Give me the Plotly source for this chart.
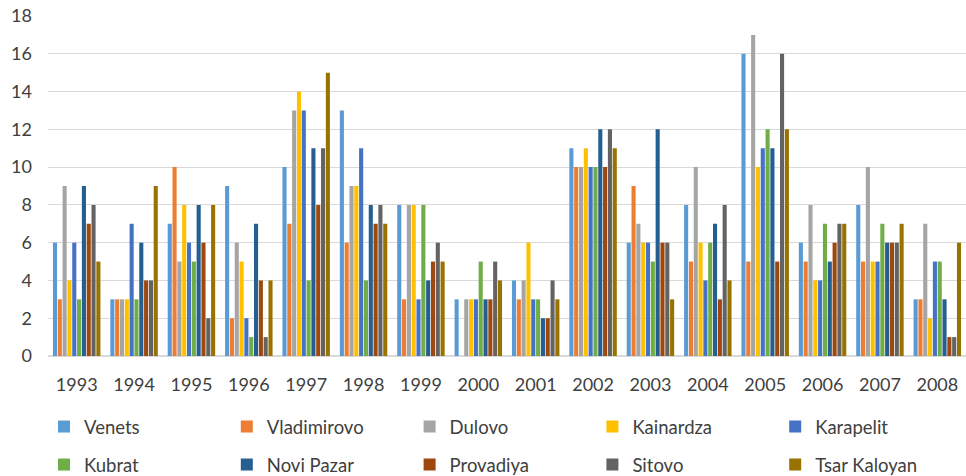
import plotly.graph_objects as go

years = ["1993", "1994", "1995", "1996", "1997", "1998", "1999", "2000",
         "2001", "2002", "2003", "2004", "2005", "2006", "2007", "2008"]

venets       = [6, 3, 7, 9, 10, 13, 8, 3, 4, 11, 6, 8, 16, 6, 8, 3]
vladimirovo  = [3, 3, 10, 2, 7, 6, 3, 0, 3, 10, 9, 5, 5, 5, 5, 3]
dulovo       = [9, 3, 5, 6, 13, 9, 8, 3, 4, 10, 7, 10, 17, 8, 10, 7]
kainardza    = [4, 3, 8, 5, 14, 9, 8, 3, 6, 11, 6, 6, 10, 4, 5, 2]
karapelit    = [6, 7, 6, 2, 13, 11, 3, 3, 3, 10, 6, 4, 11, 4, 5, 5]
kubrat       = [3, 3, 5, 1, 4, 4, 8, 5, 3, 10, 5, 6, 12, 7, 7, 5]
novi_pazar   = [9, 6, 8, 7, 11, 8, 4, 3, 2, 12, 12, 7, 11, 5, 6, 3]
provadiya    = [7, 4, 6, 4, 8, 7, 5, 3, 2, 10, 6, 3, 5, 6, 6, 1]
sitovo       = [8, 4, 2, 1, 11, 8, 6, 5, 4, 12, 6, 8, 16, 7, 6, 1]
tsar_kaloyan = [5, 9, 8, 4, 15, 7, 5, 4, 3, 11, 3, 4, 12, 7, 7, 6]

series_names = ["Venets", "Vladimirovo", "Dulovo", "Kainardza", "Karapelit",
                "Kubrat", "Novi Pazar", "Provadiya", "Sitovo", "Tsar Kaloyan"]
series_values = [venets, vladimirovo, dulovo, kainardza, karapelit,
                 kubrat, novi_pazar, provadiya, sitovo, tsar_kaloyan]
colors = ["#5B9BD5", "#ED7D31", "#A5A5A5", "#FFC000", "#4472C4",
          "#70AD47", "#255E91", "#9E480E", "#636363", "#997300"]

W, H = 966, 476
ML, MR, MT, MB = 48, 0, 16, 120
plot_w = W - ML - MR
plot_h = H - MT - MB
FONT = "Lato, 'Open Sans', sans-serif"
TXT = "#404040"

fig = go.Figure()
legend_layouts = {}
for i, (name, vals, col) in enumerate(zip(series_names, series_values, colors)):
    key = "legend" if i == 0 else f"legend{i + 1}"
    fig.add_trace(go.Bar(name=name, x=years, y=vals, marker_color=col,
                         marker_line_width=0, legend=key))
    colidx = i % 5
    row = i // 5
    text_x_px = 84 + colidx * 182.8
    leg_x_px = text_x_px - 40
    row_y_px = 427 if row == 0 else 465
    legend_layouts[key] = dict(
        x=(leg_x_px - ML) / plot_w, xanchor="left",
        y=(MT + plot_h - row_y_px) / plot_h, yanchor="middle",
        orientation="v", bgcolor="rgba(0,0,0,0)",
        font=dict(family=FONT, size=18.5, color=TXT),
    )

fig.update_layout(
    width=W, height=H,
    margin=dict(l=ML, r=MR, t=MT, b=MB, autoexpand=False),
    paper_bgcolor="white", plot_bgcolor="white",
    barmode="group", bargap=0.16, bargroupgap=0.15,
    font=dict(family=FONT, size=18, color=TXT),
    showlegend=True,
    xaxis=dict(type="category", showgrid=False, showline=True,
               linecolor="#D9D9D9", linewidth=1, ticks="",
               ticklabelstandoff=12,
               tickfont=dict(family=FONT, size=18, color=TXT)),
    yaxis=dict(range=[0, 18], dtick=2, showgrid=True, gridcolor="#D9D9D9",
               gridwidth=1, zeroline=True, zerolinecolor="#D9D9D9",
               showline=False, ticks="", ticklabelstandoff=15,
               tickfont=dict(family=FONT, size=18, color=TXT)),
    **legend_layouts,
)

fig.write_html("out.html", config={"displayModeBar": False},
               post_script="document.body.style.margin='0';document.body.style.padding='0';")
